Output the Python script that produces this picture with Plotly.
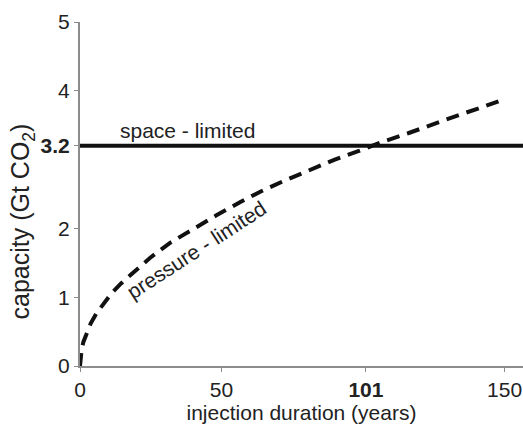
import plotly.graph_objects as go

# Data
duration_years = [0, 0.2, 0.6, 1.2, 2.3, 3.8, 5.9, 8.3, 11.2, 14.5, 18.2, 24.7, 31.8, 39.9, 48.2, 56.5, 63.5, 72.0, 82.2, 90.0, 98.8, 107.0, 116.4, 125.0, 134.0, 142.0, 150.0]
pressure_limited = [0, 0.14, 0.25, 0.35, 0.48, 0.62, 0.77, 0.91, 1.06, 1.20, 1.34, 1.57, 1.79, 1.99, 2.19, 2.38, 2.53, 2.69, 2.86, 3.0, 3.13, 3.26, 3.39, 3.52, 3.65, 3.76, 3.88]
space_limited_x = [0, 156.5]
space_limited_value = 3.2

y_tickvals = [0, 1, 2, 3.2, 4, 5]
y_ticktext = ["0", "1", "2", "<b>3.2</b>", "4", "5"]
x_tickvals = [0, 50, 101, 150]
x_ticktext = ["0", "50", "<b>101</b>", "150"]

FONT = "Liberation Sans, Arial, sans-serif"
AXIS_GRAY = "#8c8c8c"
TXT = "#222222"

fig = go.Figure()
fig.add_trace(go.Scatter(
    x=space_limited_x, y=[space_limited_value] * len(space_limited_x),
    mode="lines", line=dict(color="#111111", width=4), showlegend=False, hoverinfo="skip"))
fig.add_trace(go.Scatter(
    x=duration_years, y=pressure_limited, mode="lines",
    line=dict(color="#111111", width=4, dash="13px,8px"),
    showlegend=False, hoverinfo="skip"))

fig.add_annotation(x=38.1, y=3.42, text="space - limited", showarrow=False,
                   font=dict(family=FONT, size=21, color=TXT))
fig.add_annotation(x=41.3, y=1.69, text="pressure - limited", showarrow=False,
                   textangle=-33, font=dict(family=FONT, size=21, color=TXT))
# y-axis title (placed as a rotated annotation so it sits where the reference has it)
fig.add_annotation(xref="paper", yref="paper", x=-0.131, y=0.42,
                   xanchor="center", yanchor="middle", textangle=-90,
                   text="capacity (Gt CO<sub>2</sub>)", showarrow=False,
                   font=dict(family=FONT, size=25, color=TXT))

fig.update_layout(
    width=523, height=425,
    margin=dict(l=80, r=0, t=22, b=59, autoexpand=False),
    paper_bgcolor="white", plot_bgcolor="white",
    font=dict(family=FONT, size=21, color=TXT),
    xaxis=dict(range=[0, 156.5], tickvals=x_tickvals, ticktext=x_ticktext, automargin=False,
               showgrid=False, zeroline=False, showline=True, linecolor=AXIS_GRAY, linewidth=2,
               ticks="outside", ticklen=4, tickcolor=AXIS_GRAY, tickwidth=1,
               title=dict(text="injection duration (years)", standoff=5,
                          font=dict(family=FONT, size=21))),
    yaxis=dict(range=[0, 5], tickvals=y_tickvals, ticktext=y_ticktext, automargin=False,
               showgrid=False, zeroline=False, showline=True, linecolor=AXIS_GRAY, linewidth=2,
               ticks="outside", ticklen=4, tickcolor=AXIS_GRAY, tickwidth=1),
)

fig.write_html("out.html", config={"displayModeBar": False},
               post_script="document.body.style.margin='0';document.body.style.overflow='hidden';")
